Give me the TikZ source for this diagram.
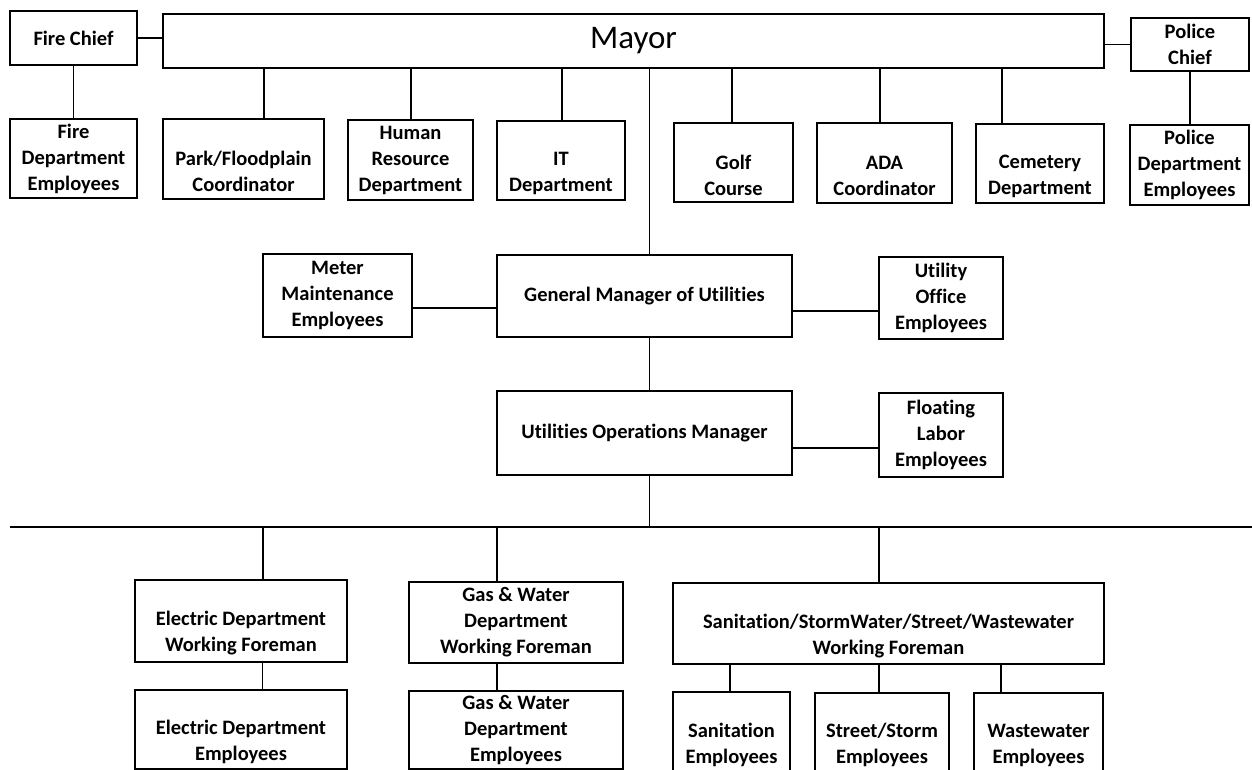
\documentclass[tikz,border=0pt]{standalone}
\usepackage{fontspec}
\setmainfont{Carlito}[Ligatures={NoCommon}]
\newcommand{\boxfont}{\fontsize{20.5}{26}\selectfont\bfseries}
\newcommand{\mayorfont}{\fontsize{33}{38}\selectfont}
\tikzset{orgbox/.style={rectangle, draw=black, line width=1.7pt, align=center, inner sep=0pt, font=\boxfont}, link/.style={line width=1.7pt, draw=black}}

\begin{document}
\begin{tikzpicture}[x=1pt, y=-1pt]
\useasboundingbox (0,0) rectangle (1252,770);
% top row
\node[orgbox, minimum width=127pt, minimum height=54pt] (firechief) at (73.5,38) {Fire Chief};
\node[orgbox, minimum width=941pt, minimum height=54pt, font=\mayorfont] (mayor) at (633.5,41) {Mayor};
\node[orgbox, minimum width=118pt, minimum height=53pt] (policechief) at (1190,44.5) {Police\\Chief};
% departments under the mayor
\node[orgbox, minimum width=127pt, minimum height=79pt] (firedept) at (73.5,158.5) {Fire\\Department\\Employees};
\node[orgbox, minimum width=161pt, minimum height=80pt] (park) at (243.5,159) {\vphantom{A}\\Park/Floodplain\\Coordinator};
\node[orgbox, minimum width=125pt, minimum height=80pt] (hr) at (410.5,160) {Human\\Resource\\Department};
\node[orgbox, minimum width=128pt, minimum height=79pt] (itdept) at (561,160.5) {\vphantom{A}\\IT\\Department};
\node[orgbox, minimum width=119pt, minimum height=79pt] (golf) at (733.5,162.5) {\vphantom{A}\\Golf\\Course};
\node[orgbox, minimum width=135pt, minimum height=80pt] (ada) at (884.5,163) {\vphantom{A}\\ADA\\Coordinator};
\node[orgbox, minimum width=128pt, minimum height=79pt] (cemetery) at (1040,163.5) {\vphantom{A}\\Cemetery\\Department};
\node[orgbox, minimum width=119pt, minimum height=80pt] (policedept) at (1189.5,165) {Police\\Department\\Employees};
% utilities
\node[orgbox, minimum width=149pt, minimum height=83pt] (meter) at (337.5,295.5) {Meter\\Maintenance\\Employees};
\node[orgbox, minimum width=295pt, minimum height=82pt] (gm) at (644.5,296) {General Manager of Utilities};
\node[orgbox, minimum width=124pt, minimum height=82pt] (utiloffice) at (941,298) {Utility\\Office\\Employees};
\node[orgbox, minimum width=295pt, minimum height=84pt] (uom) at (644.5,433) {Utilities Operations Manager};
\node[orgbox, minimum width=124pt, minimum height=84pt] (floating) at (941,435) {Floating\\Labor\\Employees};
% foremen and crews
\node[orgbox, minimum width=212pt, minimum height=82pt] (elecfore) at (241,621) {\vphantom{A}\\Electric Department\\Working Foreman};
\node[orgbox, minimum width=214pt, minimum height=81pt] (gasfore) at (516,622.5) {Gas \& Water\\Department\\Working Foreman};
\node[orgbox, minimum width=431pt, minimum height=81pt] (sanfore) at (888.5,623.5) {\vphantom{A}\\Sanitation/StormWater/Street/Wastewater\\Working Foreman};
\node[orgbox, minimum width=212pt, minimum height=79pt] (elecemp) at (241,729.5) {\vphantom{A}\\Electric Department\\Employees};
\node[orgbox, minimum width=214pt, minimum height=78pt] (gasemp) at (516,730) {Gas \& Water\\Department\\Employees};
\node[orgbox, minimum width=117pt, minimum height=80pt] (sanemp) at (731.5,732) {\vphantom{A}\\Sanitation\\Employees};
\node[orgbox, minimum width=134pt, minimum height=79pt] (streetemp) at (882,732.5) {\vphantom{A}\\Street/Storm\\Employees};
\node[orgbox, minimum width=129pt, minimum height=79pt] (wasteemp) at (1038.5,732.5) {\vphantom{A}\\Wastewater\\Employees};
% connectors
\draw[link] (firechief.east) -- (firechief.east -| mayor.west);
\draw[link] (policechief.west -| mayor.east) -- (policechief.west);
\draw[link] (firechief.south) -- (firedept.north);
\draw[link] (policechief.south) -- (policechief.south |- policedept.north);
\foreach \nm/\tap in {park/264,hr/411,itdept/562,golf/732,ada/880,cemetery/1002} {\coordinate (\nm-tap) at (\tap,0); \draw[link] (\nm-tap |- mayor.south) -- (\nm-tap |- \nm.north);}
\coordinate (spine) at (649.5,0);
\draw[link] (spine |- mayor.south) -- (spine |- gm.north);
\draw[link] (spine |- gm.south) -- (spine |- uom.north);
\draw[link] ([yshift=-12.5pt]meter.east) -- ([yshift=-12.5pt]meter.east -| gm.west);
\draw[link] ([yshift=-15pt]gm.east) -- ([yshift=-15pt]gm.east -| utiloffice.west);
\draw[link] ([yshift=-15pt]uom.east) -- ([yshift=-15pt]uom.east -| floating.west);
\coordinate (busL) at (10,527);
\coordinate (busR) at (1252,527);
\draw[link] (busL) -- (busR);
\draw[link] (spine |- uom.south) -- (spine |- busL);
\foreach \nm/\tap in {elecfore/263,gasfore/497,sanfore/879} {\coordinate (\nm-tap) at (\tap,0); \draw[link] (\nm-tap |- busL) -- (\nm-tap |- \nm.north);}
\foreach \up/\dn/\tap in {elecfore/elecemp/262.5,gasfore/gasemp/497,sanfore/sanemp/730,sanfore/streetemp/879,sanfore/wasteemp/1001} {\coordinate (\dn-tap) at (\tap,0); \draw[link] (\dn-tap |- \up.south) -- (\dn-tap |- \dn.north);}
\end{tikzpicture}
\end{document}
